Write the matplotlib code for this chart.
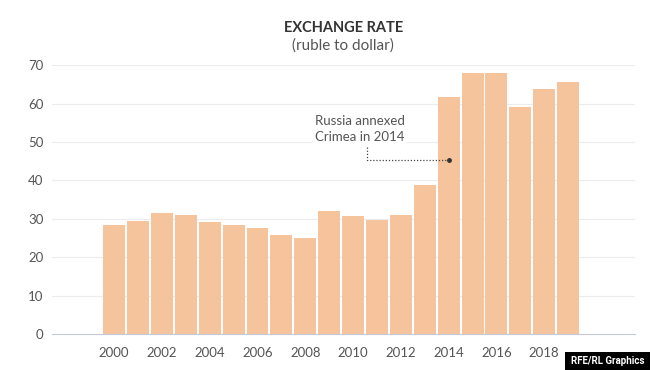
import matplotlib.pyplot as plt
from matplotlib.patches import Rectangle

years = list(range(2000, 2020))
rate = [28.5, 29.5, 31.6, 31.0, 29.2, 28.5, 27.5, 25.8, 25.1, 32.1,
        30.7, 29.8, 31.1, 38.8, 61.7, 67.9, 67.9, 59.2, 63.7, 65.7]
xticks = list(range(2000, 2020, 2))
yticks = [0, 10, 20, 30, 40, 50, 60, 70]

plt.rcParams['font.family'] = ['Lato', 'DejaVu Sans']

fig = plt.figure(figsize=(6.5, 3.7), dpi=100)
ax = fig.add_axes([0.08, 0.097, 0.897, 0.727])

ax.bar(years, rate, width=0.92, color='#f5c49c', zorder=2)

ax.set_xlim(1997.4, 2021.8)
ax.set_ylim(0, 70)
ax.set_yticks(yticks)
ax.set_xticks(xticks)
ax.grid(axis='y', color='#ebebf0', linewidth=0.8, zorder=0)
for s in ['top', 'right', 'left']:
    ax.spines[s].set_visible(False)
ax.spines['bottom'].set_color('#c5c8d6')
ax.spines['bottom'].set_zorder(3)
ax.tick_params(axis='both', length=0, labelsize=9.5, labelcolor='#555555')
ax.tick_params(axis='y', pad=6)
ax.tick_params(axis='x', pad=9)

# annotation
ax.text(2008.4, 53.5, 'Russia annexed\nCrimea in 2014', fontsize=9.5, color='#555555',
        ha='left', va='center', linespacing=1.4, zorder=4,
        bbox=dict(facecolor='white', edgecolor='none', pad=2))
ax.plot([2010.6, 2010.6, 2014], [48.6, 45.4, 45.4], color='#444444', linestyle=(0, (1, 1.5)),
        linewidth=0.9, zorder=4)
ax.plot(2014, 45.4, 'o', color='#333333', markersize=2.5, zorder=5)

fig.text(0.528, 0.925, 'EXCHANGE RATE', ha='center', va='center', fontsize=10.5,
         fontweight='bold', color='#333333')
fig.text(0.528, 0.878, '(ruble to dollar)', ha='center', va='center', fontsize=11,
         color='#555555')

# credit box
fig.patches.append(Rectangle((0.869, 0.0), 0.131, 0.05, transform=fig.transFigure,
                             facecolor='black', edgecolor='none'))
fig.text(0.9345, 0.025, 'RFE/RL Graphics', ha='center', va='center', fontsize=7,
         fontweight='bold', color='white', family=['Liberation Sans Narrow', 'Roboto'])

fig.savefig('out.png', dpi=100)
